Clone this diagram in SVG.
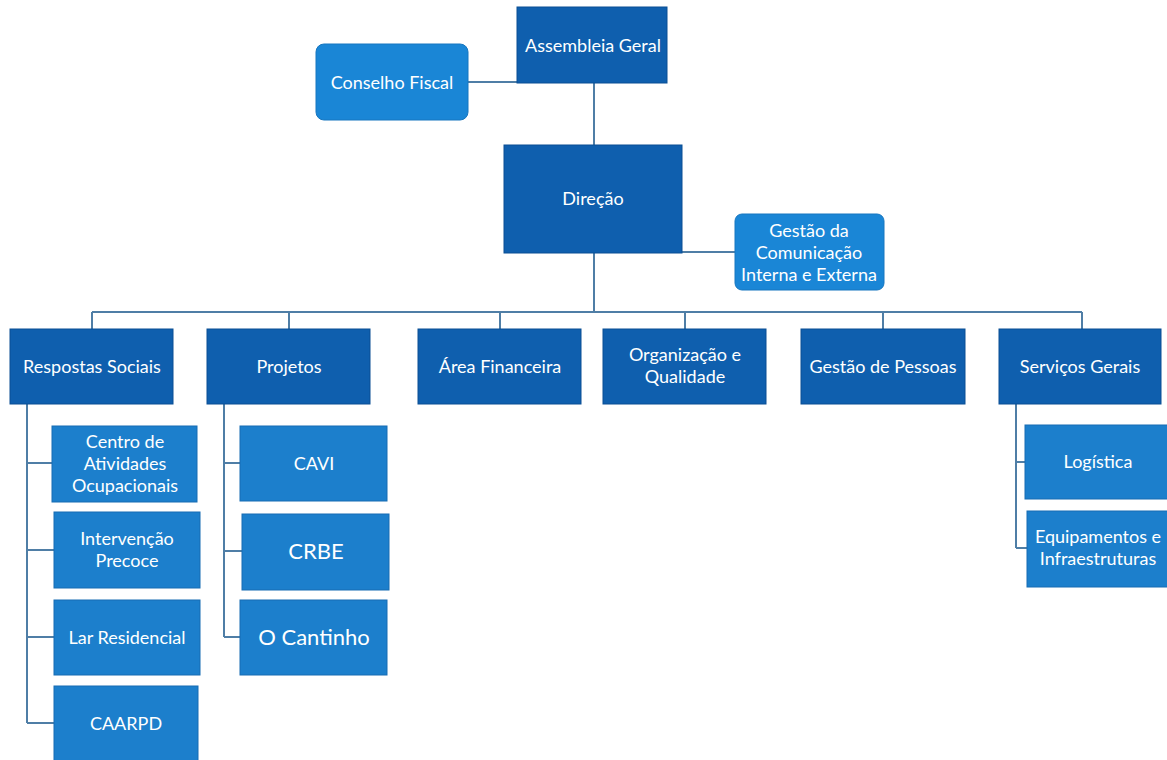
<svg xmlns="http://www.w3.org/2000/svg" width="1167" height="760" viewBox="0 0 1167 760">
<style>
.d{fill:#0f5fae;stroke:#0b4f94;stroke-width:1}
.l{fill:#1c7fcc;stroke:#176db3;stroke-width:1}
.r{fill:#1a86d6;stroke:#1676c0;stroke-width:1}
text{font-family:Lato,"Liberation Sans",sans-serif;font-size:18px;fill:#ffffff;text-anchor:middle}
.big{font-size:22px}
#connectors path{fill:none;stroke:#4f7ea6;stroke-width:2}
</style>
<rect width="1167" height="760" fill="#ffffff"/>
<g id="connectors">
<path d="M468 82H517"/>
<path d="M594 83V145"/>
<path d="M682 252H735"/>
<path d="M594 253V312"/>
<path d="M92 312H1082"/>
<path d="M92 312V329M289 312V329M500 312V329M685 312V329M883 312V329M1082 312V329"/>
<path d="M27 404V723M27 463H52M27 550H54M27 637H54M27 723H54"/>
<path d="M224 404V637M224 463H240M224 551H242M224 637H240"/>
<path d="M1016 404V548M1016 462H1025M1016 548H1027"/>
</g>
<g id="assembleia"><rect class="d" x="517" y="7" width="150" height="76"/><text x="593" y="52">Assembleia Geral</text></g>
<g id="conselho"><rect class="r" x="316" y="44" width="152" height="76" rx="8"/><text x="392" y="89">Conselho Fiscal</text></g>
<g id="direcao"><rect class="d" x="504" y="145" width="178" height="108"/><text x="593" y="205">Direção</text></g>
<g id="comunicacao"><rect class="r" x="735" y="214" width="149" height="76" rx="7"/><text x="809" y="237">Gestão da</text><text x="809" y="259">Comunicação</text><text x="809" y="281">Interna e Externa</text></g>
<g id="respostas"><rect class="d" x="10" y="329" width="163" height="75"/><text x="92" y="373">Respostas Sociais</text></g>
<g id="projetos"><rect class="d" x="207" y="329" width="163" height="75"/><text x="289" y="373">Projetos</text></g>
<g id="financeira"><rect class="d" x="418" y="329" width="163" height="75"/><text x="500" y="373">Área Financeira</text></g>
<g id="organizacao"><rect class="d" x="603" y="329" width="163" height="75"/><text x="685" y="361">Organização e</text><text x="685" y="383">Qualidade</text></g>
<g id="pessoas"><rect class="d" x="801" y="329" width="164" height="75"/><text x="883" y="373">Gestão de Pessoas</text></g>
<g id="servicos"><rect class="d" x="999" y="329" width="162" height="75"/><text x="1080" y="373">Serviços Gerais</text></g>
<g id="cao"><rect class="l" x="52" y="426" width="145" height="76"/><text x="125" y="448">Centro de</text><text x="125" y="470">Atividades</text><text x="125" y="492">Ocupacionais</text></g>
<g id="intervencao"><rect class="l" x="54" y="512" width="146" height="76"/><text x="127" y="545">Intervenção</text><text x="127" y="567">Precoce</text></g>
<g id="lar"><rect class="l" x="54" y="600" width="146" height="75"/><text x="127" y="644">Lar Residencial</text></g>
<g id="caarpd"><rect class="l" x="54" y="686" width="144" height="80"/><text x="126" y="730">CAARPD</text></g>
<g id="cavi"><rect class="l" x="240" y="426" width="147" height="75"/><text x="314" y="470">CAVI</text></g>
<g id="crbe"><rect class="l" x="242" y="514" width="147" height="76"/><text class="big" x="316" y="559">CRBE</text></g>
<g id="cantinho"><rect class="l" x="240" y="600" width="147" height="75"/><text class="big" x="314" y="645">O Cantinho</text></g>
<g id="logistica"><rect class="l" x="1025" y="425" width="145" height="74"/><text x="1098" y="468">Logística</text></g>
<g id="equipamentos"><rect class="l" x="1027" y="511" width="143" height="76"/><text x="1098" y="543">Equipamentos e</text><text x="1098" y="565">Infraestruturas</text></g>
</svg>
